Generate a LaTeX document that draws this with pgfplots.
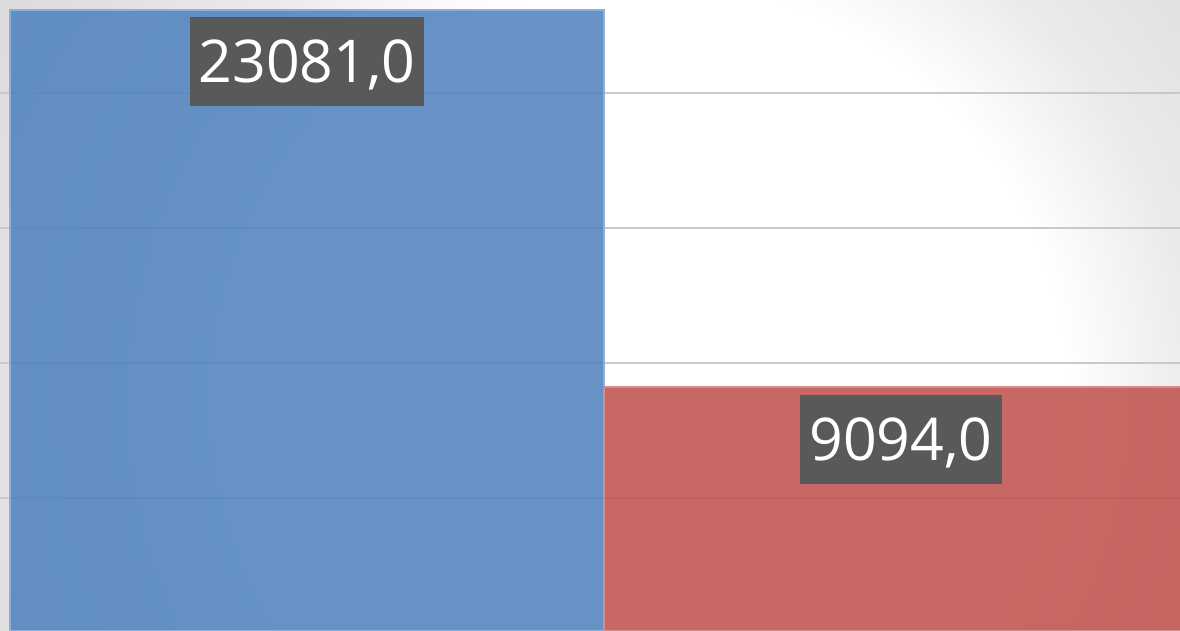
\documentclass[border=0pt]{standalone}
\usepackage{fontspec}
\setmainfont{Open Sans}
\usepackage{pgfplots}
\pgfplotsset{compat=1.18}
\definecolor{barblue}{RGB}{76,128,188}
\definecolor{barred}{RGB}{191,78,73}
\definecolor{blueedge}{RGB}{140,176,222}
\definecolor{rededge}{RGB}{214,140,136}
\definecolor{labelgray}{RGB}{89,89,89}
\pgfdeclareradialshading{bgc}{\pgfpoint{0bp}{0bp}}{color(0bp)=(white); color(13bp)=(white); color(17bp)=(black!8); color(21bp)=(black!12); color(25bp)=(black!15); color(50bp)=(black!15)}
\begin{document}
\begin{tikzpicture}
\begin{scope}
\clip (0,0) rectangle (590pt,315.5pt);
\shade[shading=bgc] (325pt,115.5pt) circle (400pt);
\end{scope}
\begin{axis}[
  scale only axis,
  width=590pt, height=315.5pt,
  xmin=0, xmax=1180,
  ymin=74, ymax=23444,
  xtick=\empty,
  ytick={5000,10000,15000,20000},
  yticklabel=\empty,
  ymajorgrids,
  grid style={color=black!21, line width=1pt},
  axis line style={draw=none},
  tick style={draw=none},
  every node near coord/.append style={
    anchor=center, yshift=-26pt,
    fill=labelgray, text=white, opacity=1, fill opacity=1, text opacity=1,
    font=\fontsize{29.5pt}{30pt}\selectfont,
    inner xsep=4.5pt, inner ysep=0pt,
    text height=21pt, text depth=0pt,
    minimum height=44.5pt},
]
\addplot[ybar, bar width=594, bar shift=0pt, fill=barblue, fill opacity=0.85,
  draw=blueedge, line width=1pt,
  nodes near coords, point meta=explicit symbolic]
  coordinates {(307,23081) [23081,0]};
\addplot[ybar, bar width=594, bar shift=0pt, fill=barred, fill opacity=0.85,
  draw=rededge, line width=1pt,
  nodes near coords, point meta=explicit symbolic]
  coordinates {(901,9094) [9094,0]};
\end{axis}
\pgfresetboundingbox
\path (0,0) rectangle (590pt,315.5pt);
\end{tikzpicture}
\end{document}
